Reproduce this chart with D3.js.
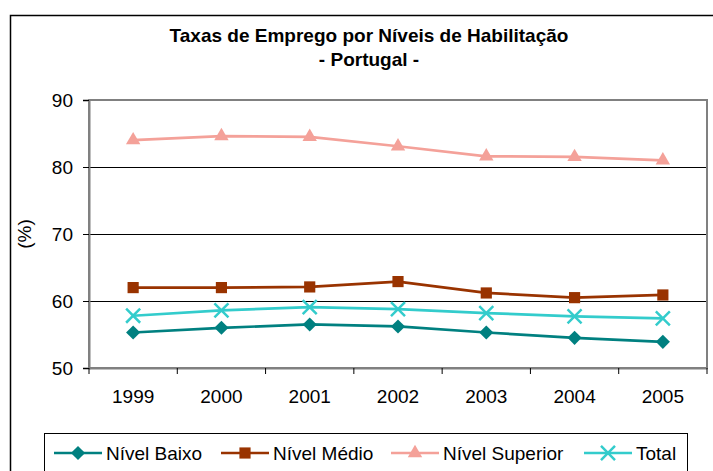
<!DOCTYPE html>
<html>
<head>
<meta charset="utf-8">
<script src="https://cdn.jsdelivr.net/npm/d3@7.9.0/dist/d3.min.js"></script>
<style>
  body { margin: 0; background: #fff; }
  svg { display: block; font-family: "Liberation Sans", Arial, sans-serif; }
</style>
</head>
<body>
<svg id="chart" width="713" height="471"></svg>
<script>
// dados
const years = ['1999', '2000', '2001', '2002', '2003', '2004', '2005'];
const nivelBaixo    = [55.3, 56.0, 56.5, 56.2, 55.3, 54.5, 53.9];
const nivelMedio    = [62.0, 62.0, 62.1, 62.9, 61.2, 60.5, 60.9];
const nivelSuperior = [84.0, 84.6, 84.5, 83.1, 81.6, 81.5, 81.0];
const total         = [57.8, 58.6, 59.1, 58.8, 58.2, 57.7, 57.4];
const yTicks = [50, 60, 70, 80, 90];

const series = [
  { name: 'Nível Baixo', values: nivelBaixo, color: '#008080', symbol: 'diamond' },
  { name: 'Nível Médio', values: nivelMedio, color: '#993300', symbol: 'square' },
  { name: 'Nível Superior', values: nivelSuperior, color: '#F4A199', symbol: 'triangle' },
  { name: 'Total', values: total, color: '#33CCCC', symbol: 'x' }
];

const svg = d3.select('#chart');
const plot = { left: 89, right: 707, top: 100, bottom: 368 };

// moldura exterior
svg.append('rect')
   .attr('x', 10.5).attr('y', 15.5)
   .attr('width', 720).attr('height', 480)
   .attr('fill', 'none').attr('stroke', '#000').attr('stroke-width', 1.5);

// título
svg.append('text')
   .attr('x', 369).attr('y', 42)
   .attr('text-anchor', 'middle')
   .attr('font-size', 19).attr('font-weight', 'bold')
   .text('Taxas de Emprego por Níveis de Habilitação');
svg.append('text')
   .attr('x', 369).attr('y', 66)
   .attr('text-anchor', 'middle')
   .attr('font-size', 19).attr('font-weight', 'bold')
   .text('- Portugal -');

const x = d3.scaleBand().domain(years).range([plot.left, plot.right]);
const y = d3.scaleLinear().domain([50, 90]).range([plot.bottom, plot.top]);

// grelha
svg.append('g')
   .selectAll('line')
   .data(yTicks.filter(t => t > 50 && t < 90))
   .join('line')
   .attr('x1', plot.left).attr('x2', plot.right)
   .attr('y1', d => y(d) + 0.5).attr('y2', d => y(d) + 0.5)
   .attr('stroke', '#000').attr('stroke-width', 1);

// moldura da área do gráfico
svg.append('rect')
   .attr('x', plot.left).attr('y', plot.top)
   .attr('width', plot.right - plot.left).attr('height', plot.bottom - plot.top)
   .attr('fill', 'none').attr('stroke', '#808080').attr('stroke-width', 2);

// eixos
const yAxis = svg.append('g')
   .attr('transform', `translate(${plot.left},0)`)
   .call(d3.axisLeft(y).tickValues(yTicks).tickSize(6).tickPadding(10));
const xAxis = svg.append('g')
   .attr('transform', `translate(0,${plot.bottom})`)
   .call(d3.axisBottom(x).tickSize(0).tickPadding(22));

[yAxis, xAxis].forEach(g => {
  g.select('.domain').attr('stroke', '#808080').attr('stroke-width', 2);
  g.selectAll('text').attr('font-size', 19).attr('fill', '#000')
   .attr('font-family', '"Liberation Sans", Arial, sans-serif');
});
yAxis.selectAll('.tick line').attr('stroke', '#000');

// marcas de divisão no eixo x (limites das categorias)
svg.append('g')
   .selectAll('line')
   .data(years.concat(['end']))
   .join('line')
   .attr('x1', (d, i) => plot.left + i * x.step())
   .attr('x2', (d, i) => plot.left + i * x.step())
   .attr('y1', plot.bottom).attr('y2', plot.bottom + 6)
   .attr('stroke', '#000');

// título do eixo y
svg.append('text')
   .attr('transform', 'translate(31,234) rotate(-90)')
   .attr('text-anchor', 'middle')
   .attr('font-size', 19)
   .text('(%)');

function marker(sel, type, color) {
  if (type === 'diamond') {
    sel.append('path').attr('d', d3.symbol(d3.symbolSquare, 100)())
       .attr('transform', 'rotate(45)').attr('fill', color);
  } else if (type === 'square') {
    sel.append('path').attr('d', d3.symbol(d3.symbolSquare, 125)()).attr('fill', color);
  } else if (type === 'triangle') {
    sel.append('path').attr('d', d3.symbol(d3.symbolTriangle, 90)()).attr('fill', color);
  } else {
    sel.append('path').attr('d', d3.symbol(d3.symbolX, 130)())
       .attr('fill', 'none').attr('stroke', color).attr('stroke-width', 2.5);
  }
}

const line = d3.line()
   .x((d, i) => x(years[i]) + x.bandwidth() / 2)
   .y(d => y(d));

const lines = svg.append('g');
series.forEach(s => {
  lines.append('path')
     .attr('d', line(s.values))
     .attr('fill', 'none').attr('stroke', s.color).attr('stroke-width', 2.7);
  lines.selectAll(null)
     .data(s.values)
     .join('g')
     .attr('transform', (d, i) => `translate(${x(years[i]) + x.bandwidth() / 2},${y(d)})`)
     .each(function () { marker(d3.select(this), s.symbol, s.color); });
});

// legenda
const legend = svg.append('g');
legend.append('rect')
   .attr('x', 44.5).attr('y', 433.5)
   .attr('width', 643).attr('height', 60)
   .attr('fill', '#fff').attr('stroke', '#000').attr('stroke-width', 1);

const legendX = [54, 221, 391, 584];
series.forEach((s, i) => {
  const g = legend.append('g').attr('transform', `translate(${legendX[i]},453)`);
  g.append('line').attr('x1', 0).attr('x2', 48)
   .attr('stroke', s.color).attr('stroke-width', 2.7);
  marker(g.append('g').attr('transform', 'translate(24,0)'), s.symbol, s.color);
  g.append('text').attr('x', 52).attr('y', 7)
   .attr('font-size', 19).text(s.name);
});
</script>
</body>
</html>
